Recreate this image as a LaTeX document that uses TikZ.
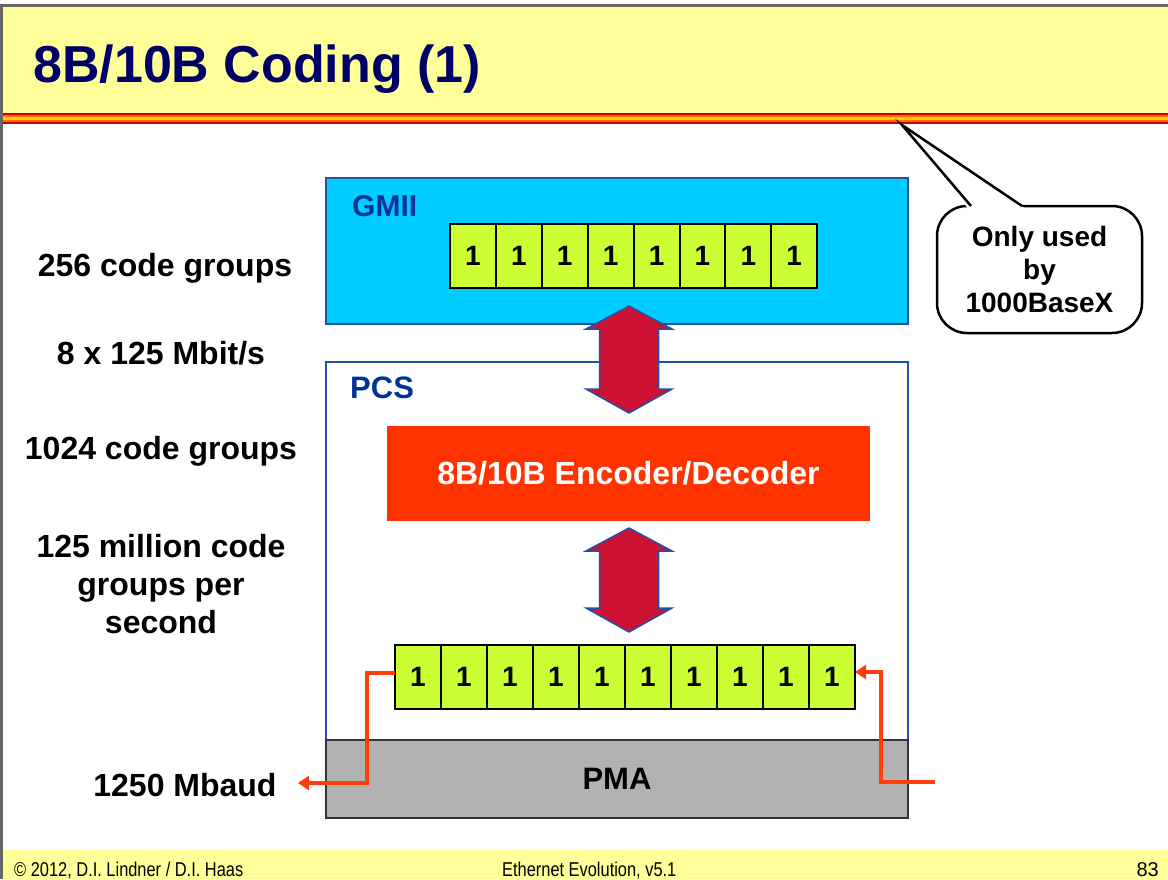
\documentclass[tikz,border=0pt]{standalone}
\usepackage{fontspec}
\setmainfont{Liberation Sans}
\usetikzlibrary{arrows.meta}
\definecolor{titlebg}{HTML}{FFFF99}
\definecolor{titlefg}{HTML}{000066}
\definecolor{gmiifill}{HTML}{00CCFF}
\definecolor{boxblue}{HTML}{2050A8}
\definecolor{lblblue}{HTML}{003399}
\definecolor{bitgreen}{HTML}{CCFF33}
\definecolor{crimson}{HTML}{CC1133}
\definecolor{encred}{HTML}{FF3300}
\definecolor{pmagray}{HTML}{B2B2B2}
\definecolor{sigorange}{HTML}{FF3D0D}
\definecolor{framegray}{HTML}{666666}
\definecolor{stripered}{HTML}{CC0000}
\definecolor{stripeorange}{HTML}{FF6600}
\definecolor{stripeyellow}{HTML}{FFCC00}
\tikzset{
  lbl/.style={font=\fontsize{32pt}{38pt}\selectfont\bfseries, inner sep=0pt, anchor=base},
  bitcell/.style={draw=black, line width=2pt, fill=bitgreen, minimum height=64pt, inner sep=0pt, outer sep=0pt, font=\fontsize{28pt}{30pt}\selectfont\bfseries},
  layerbox/.style={draw=boxblue, line width=1.5pt, inner sep=0pt, outer sep=0pt},
  blockarrow/.style={fill=crimson, draw=boxblue, line width=1.5pt, line join=miter},
  sigline/.style={draw=sigorange, line width=4pt, -{Triangle[length=11pt,width=14pt]}},
  footer/.style={font=\fontsize{20pt}{22pt}\selectfont, inner sep=0pt},
}
\newcommand\dblarrow[3]{%
  \filldraw[blockarrow] (#1,#2) -- (#1+43,#2+23) -- (#1+29.5,#2+23) -- (#1+29.5,#3-24) -- (#1+43,#3-24) -- (#1,#3) -- (#1-43,#3-24) -- (#1-29.5,#3-24) -- (#1-29.5,#2+23) -- (#1-43,#2+23) -- cycle;}
\begin{document}
\begin{tikzpicture}[x=1pt,y=-1pt]
\useasboundingbox (0,0) rectangle (1168,879);
\fill[white] (0,0) rectangle (1168,879);
% frame
\fill[framegray] (0,4) rectangle (1168,7);
\fill[framegray] (0,4) rectangle (3,879);
% title band
\fill[titlebg] (3,7) rectangle (1168,113);
\fill[stripered] (3,113) rectangle (1168,115);
\fill[stripeorange] (3,115) rectangle (1168,117);
\fill[stripeyellow] (3,117) rectangle (1168,120);
\fill[stripeorange] (3,120) rectangle (1168,122);
\fill[stripered] (3,122) rectangle (1168,124);
\node[anchor=base west, inner sep=0pt, text=titlefg, font=\fontsize{52pt}{60pt}\selectfont\bfseries] (title) at (33,82) {8B/10B Coding (1)};
% footer
\fill[titlebg] (3,850) rectangle (1168,879);
\node[footer, anchor=base west] (copy) at (14,876) {\scalebox{0.82}[1]{© 2012, D.I. Lindner / D.I. Haas}};
\node[footer, anchor=base west] (conf) at (502,876) {\scalebox{0.82}[1]{Ethernet Evolution, v5.1}};
\node[footer, anchor=base east] (page) at (1159,876) {83};
% layer boxes
\node[layerbox, fill=gmiifill, minimum width=582pt, minimum height=146pt] (gmii) at (617,251) {};
\node[anchor=base west, inner sep=0pt, text=lblblue, font=\fontsize{30pt}{34pt}\selectfont\bfseries] (gmiilbl) at (352,216) {GMII};
\node[layerbox, fill=white, minimum width=582pt, minimum height=398pt] (pcs) at (617,561) {};
\node[anchor=base west, inner sep=0pt, text=lblblue, font=\fontsize{31pt}{34pt}\selectfont\bfseries] (pcslbl) at (350,398) {PCS};
\node[draw=black!80, line width=2pt, fill=pmagray, minimum width=582pt, minimum height=78pt, inner sep=0pt, font=\fontsize{31pt}{34pt}\selectfont\bfseries] (pma) at (617,779) {PMA};
\node[fill=encred, minimum width=483pt, minimum height=95pt, inner sep=0pt, text=white, font=\fontsize{32pt}{36pt}\selectfont\bfseries] (enc) at (628.5,473.5) {8B/10B Encoder/Decoder};
% bit cells
\foreach \i in {1,...,8} {
  \node[bitcell, minimum width=45.9pt] (g\i) at ({450+45.9*(\i-0.5)},255.5) {1};
}
\foreach \i in {1,...,10} {
  \node[bitcell, minimum width=46pt] (b\i) at ({395+46*(\i-0.5)},677) {1};
}
% block arrows
\dblarrow{629}{306}{413}
\dblarrow{629}{528}{632}
% signal lines
\coordinate (lout) at (298,783);
\coordinate (rin) at (935,782);
\draw[sigline] ([yshift=4pt]b1.west) -- (367,673) |- (lout);
\draw[sigline] (rin) -- (881,782) |- ([yshift=5pt]b10.east);
% left labels
\node[lbl] (l1) at (165,276) {256 code groups};
\node[lbl] (l2) at (161,364) {8 x 125 Mbit/s};
\node[lbl] (l3) at (161,459) {1024 code groups};
\node[lbl, anchor=north, align=center] (l4) at (161,534) {125 million code\\groups per\\second};
\node[lbl] (l5) at (185,796) {1250 Mbaud};
% callout
\node[draw=black, line width=2.5pt, fill=white, rounded corners=30pt, minimum width=205pt, minimum height=127pt, inner sep=0pt, align=center, font=\fontsize{28pt}{33pt}\selectfont\bfseries] (callout) at (1039.5,269.5) {Only used\\by\\1000BaseX};
\coordinate (ctip) at (902,125);
\fill[white] (968,208.5) -- (ctip) -- (1025,208.5) -- cycle;
\draw[line width=2.5pt, line join=miter] (971,206) -- (ctip) -- (1022,206);
\end{tikzpicture}
\end{document}
